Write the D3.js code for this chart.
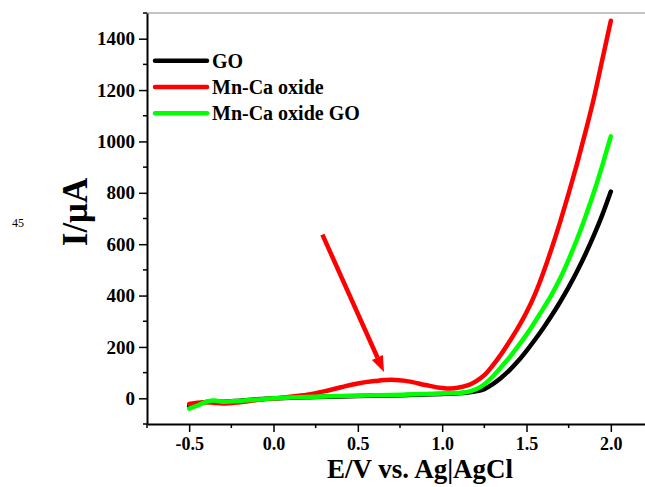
<!DOCTYPE html>
<html>
<head>
<meta charset="utf-8">
<script src="https://cdn.jsdelivr.net/npm/d3@7"></script>
<style>
  body { margin: 0; background: #fff; }
  text { font-family: "Liberation Serif", "Times New Roman", serif; }
</style>
</head>
<body>
<div id="chart"></div>
<script>
// potential grid (V vs Ag|AgCl)
const potentials = [-0.5, -0.45, -0.4, -0.35, -0.3, -0.2, -0.1, 0, 0.1, 0.2, 0.3, 0.4, 0.5, 0.6, 0.7, 0.8, 0.9, 1.0, 1.05, 1.1, 1.15, 1.2, 1.25, 1.3, 1.35, 1.4, 1.45, 1.5, 1.55, 1.6, 1.65, 1.7, 1.75, 1.8, 1.85, 1.9, 1.95, 2.0];

// currents (uA)
const goCurrent = [-30, -22, -14, -12, -13, -9, -4, 0, 2, 4, 6, 7, 9, 10, 11, 13, 15, 17, 18, 20, 23, 27, 36, 55, 80, 110, 145, 185, 228, 274, 323, 376, 433, 495, 562, 635, 715, 805];
const mnCaCurrent = [-22, -17, -15, -18, -20, -15, -7, 0, 6, 14, 27, 43, 58, 67, 72, 66, 52, 40, 38, 42, 50, 66, 90, 128, 172, 222, 275, 335, 405, 490, 585, 688, 798, 914, 1038, 1170, 1320, 1470];
const mnCaGoCurrent = [-40, -28, -14, -9, -13, -10, -5, 0, 3, 5, 7, 9, 10, 12, 13, 15, 17, 19, 20, 21, 25, 35, 55, 85, 122, 160, 203, 248, 298, 350, 405, 467, 540, 620, 708, 803, 908, 1020];

const seriesNames = ["GO", "Mn-Ca oxide", "Mn-Ca oxide GO"];
const seriesColors = ["#000000", "#ff0000", "#00ff00"];

const xTicks = [-0.5, 0.0, 0.5, 1.0, 1.5, 2.0];
const yTicks = [0, 200, 400, 600, 800, 1000, 1200, 1400];

// arrow annotation: [start, tip] in data units
const arrowPts = [[0.29, 637], [0.655, 102]];

//--- Graph Formatting ---//
const width = 645;
const height = 487;
const plotLeft = 147;
const plotTop = 13;
const plotBottom = 424;

const svg = d3.select("#chart")
  .append("svg")
  .attr("width", width)
  .attr("height", height);

const xScale = d3.scaleLinear().domain([-0.75, 2.25]).range([plotLeft, 653]);
const yScale = d3.scaleLinear().domain([-100, 1500]).range([plotBottom, plotTop]);

// top frame line
svg.append("line")
  .attr("x1", plotLeft).attr("x2", width)
  .attr("y1", plotTop).attr("y2", plotTop)
  .attr("stroke", "#8a8a8a").attr("stroke-width", 1);

// curves
const data = [goCurrent, mnCaCurrent, mnCaGoCurrent].map((vals, i) => ({
  name: seriesNames[i],
  color: seriesColors[i],
  values: potentials.map((e, j) => ({ e: e, v: vals[j] }))
}));

const line = d3.line()
  .x(d => xScale(d.e))
  .y(d => yScale(d.v))
  .curve(d3.curveMonotoneX);

svg.selectAll(".curve")
  .data(data)
  .enter()
  .append("path")
  .attr("class", "curve")
  .attr("fill", "none")
  .attr("stroke", d => d.color)
  .attr("stroke-width", 4.5)
  .attr("stroke-linejoin", "round")
  .attr("stroke-linecap", "round")
  .attr("d", d => line(d.values));

// x-axis
const xMinor = d3.range(-0.75, 2.26, 0.25).filter(t => !xTicks.some(m => Math.abs(m - t) < 1e-6));
const xAxis = svg.append("g")
  .attr("transform", "translate(0," + plotBottom + ")")
  .call(d3.axisBottom(xScale).tickValues(xTicks).tickSize(8).tickSizeOuter(0));
xAxis.select(".domain").attr("stroke-width", 2);
xAxis.selectAll(".tick line").attr("stroke-width", 1.5);
xAxis.selectAll("text")
  .attr("y", 26).attr("dy", 0)
  .style("font-family", "'Liberation Serif', serif")
  .style("font-weight", "bold")
  .style("font-size", "18px")
  .text(d => d3.format(".1f")(d).replace("\u2212", "-"));
xAxis.selectAll(".minor")
  .data(xMinor)
  .enter()
  .append("line")
  .attr("class", "minor")
  .attr("x1", d => xScale(d)).attr("x2", d => xScale(d))
  .attr("y1", 0).attr("y2", 4)
  .attr("stroke", "#000").attr("stroke-width", 1.5);

// y-axis
const yMinor = d3.range(-100, 1501, 200);
const yAxis = svg.append("g")
  .attr("transform", "translate(" + plotLeft + ",0)")
  .call(d3.axisLeft(yScale).tickValues(yTicks).tickSize(8).tickSizeOuter(0)
    .tickFormat(d3.format("d")));
yAxis.select(".domain").attr("stroke-width", 2);
yAxis.selectAll(".tick line").attr("stroke-width", 1.5);
yAxis.selectAll("text")
  .attr("x", -12)
  .style("font-family", "'Liberation Serif', serif")
  .style("font-weight", "bold")
  .style("font-size", "19px");
yAxis.selectAll(".minor")
  .data(yMinor)
  .enter()
  .append("line")
  .attr("class", "minor")
  .attr("x1", -4).attr("x2", 0)
  .attr("y1", d => yScale(d)).attr("y2", d => yScale(d))
  .attr("stroke", "#000").attr("stroke-width", 1.5);

// axis titles
svg.append("text")
  .attr("x", 420).attr("y", 478)
  .attr("text-anchor", "middle")
  .style("font-weight", "bold")
  .style("font-size", "27px")
  .text("E/V vs. Ag|AgCl");

svg.append("text")
  .attr("transform", "translate(87,212) rotate(-90)")
  .attr("text-anchor", "middle")
  .style("font-weight", "bold")
  .style("font-size", "35px")
  .text("I/μA");

svg.append("text")
  .attr("x", 12).attr("y", 227)
  .style("font-size", "12px")
  .text("45");

// legend
const legend = svg.selectAll(".legend")
  .data(data)
  .enter()
  .append("g")
  .attr("class", "legend")
  .attr("transform", (d, i) => "translate(155," + (60.7 + i * 26.3) + ")");
legend.append("line")
  .attr("x1", 0).attr("x2", 52)
  .attr("stroke", d => d.color)
  .attr("stroke-width", 4.5)
  .attr("stroke-linecap", "round");
legend.append("text")
  .attr("x", 57).attr("y", 7)
  .style("font-weight", "bold")
  .style("font-size", "20px")
  .text(d => d.name);

// arrow
const ax0 = xScale(arrowPts[0][0]), ay0 = yScale(arrowPts[0][1]);
const ax1 = xScale(arrowPts[1][0]), ay1 = yScale(arrowPts[1][1]);
const ang = Math.atan2(ay1 - ay0, ax1 - ax0);
const headLen = 16, headW = 6;
const bx = ax1 - headLen * Math.cos(ang), by = ay1 - headLen * Math.sin(ang);
svg.append("line")
  .attr("x1", ax0).attr("y1", ay0)
  .attr("x2", bx).attr("y2", by)
  .attr("stroke", "#ff0000").attr("stroke-width", 4.5);
svg.append("polygon")
  .attr("points", [
    [ax1, ay1],
    [bx + headW * Math.sin(ang), by - headW * Math.cos(ang)],
    [bx - headW * Math.sin(ang), by + headW * Math.cos(ang)]
  ].map(p => p.join(",")).join(" "))
  .attr("fill", "#ff0000");
</script>
</body>
</html>
